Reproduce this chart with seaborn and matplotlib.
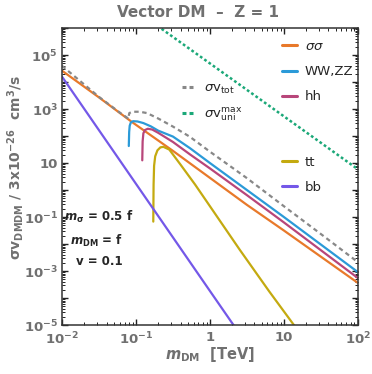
import numpy as np
import pandas as pd
import seaborn as sns
import matplotlib
matplotlib.use("Agg")
from matplotlib import pyplot as plt
from matplotlib.lines import Line2D
from matplotlib.ticker import LogLocator, NullFormatter

# log10 of m_DM [TeV] and log10 of sigma v / 3e-26
ss_logm = [-2.0, -1.5, -1.06, -0.5, 0.0, 0.5, 1.0, 1.5, 2.0]
ss_logsv = [4.42, 3.43, 2.53, 1.45, 0.45, -0.55, -1.5, -2.47, -3.44]

ww_logm = [-1.097, -1.092, -1.085, -1.07, -1.04, -0.98, -0.9, -0.8, -0.7, -0.5, -0.27, 0.0, 0.5, 1.0, 1.5, 2.0]
ww_logsv = [1.63, 2.15, 2.38, 2.5, 2.55, 2.54, 2.48, 2.36, 2.2, 1.98, 1.55, 1.0, 0.0, -1.0, -2.02, -3.04]

hh_logm = [-0.915, -0.91, -0.9, -0.88, -0.84, -0.78, -0.7, -0.5, -0.27, 0.0, 0.5, 1.0, 1.5, 2.0]
hh_logsv = [1.1, 1.8, 2.1, 2.22, 2.27, 2.24, 2.12, 1.78, 1.32, 0.8, -0.19, -1.2, -2.23, -3.26]

tt_logm = [-0.766, -0.762, -0.755, -0.74, -0.71, -0.67, -0.63, -0.55, -0.4, -0.2, 0.0, 0.405, 0.8, 1.135, 1.3]
tt_logsv = [-1.17, 0.2, 0.9, 1.25, 1.47, 1.58, 1.6, 1.5, 0.95, 0.2, -0.6, -2.22, -3.75, -5.0, -5.6]

bb_logm = [-2.0, -1.0, 0.0, 0.5]
bb_logsv = [4.2, 0.23, -3.74, -5.72]

tot_logm = [-2.0, -1.5, -1.2, -1.1, -1.097, -1.09, -1.05, -0.95, -0.85, -0.7, -0.5, -0.27, 0.0, 0.5, 1.0, 1.5, 2.0]
tot_logsv = [4.6, 3.45, 2.83, 2.64, 2.75, 2.85, 2.9, 2.9, 2.85, 2.65, 2.35, 1.97, 1.42, 0.44, -0.6, -1.63, -2.67]

uni_logm = [-1.0, 2.0]
uni_logsv = [6.65, 0.77]

series = [
    ("σσ", ss_logm, ss_logsv, "#E8792A"),
    ("WW,ZZ", ww_logm, ww_logsv, "#2B9AD8"),
    ("hh", hh_logm, hh_logsv, "#B8467A"),
    ("tt", tt_logm, tt_logsv, "#C4AA10"),
    ("bb", bb_logm, bb_logsv, "#7458E8"),
]

sns.set_style("ticks")
plt.rcParams['font.family'] = ['DejaVu Sans']

fig = plt.figure(figsize=(3.72, 3.74), dpi=100)
ax = fig.add_axes([0.1667, 0.131, 0.7953, 0.794])

handles = {}
for name, lm, ls, col in series:
    df = pd.DataFrame({"m": np.power(10.0, lm), "sv": np.power(10.0, ls)})
    sns.lineplot(data=df, x="m", y="sv", ax=ax, color=col, lw=1.6, sort=False, estimator=None)
    handles[name] = Line2D([], [], color=col, lw=2.2)

df_tot = pd.DataFrame({"m": np.power(10.0, tot_logm), "sv": np.power(10.0, tot_logsv)})
sns.lineplot(data=df_tot, x="m", y="sv", ax=ax, color="#888888", lw=1.6, sort=False, estimator=None)
ax.lines[-1].set_dashes([2, 1.6])
df_uni = pd.DataFrame({"m": np.power(10.0, uni_logm), "sv": np.power(10.0, uni_logsv)})
sns.lineplot(data=df_uni, x="m", y="sv", ax=ax, color="#1BA878", lw=1.8, sort=False, estimator=None)
ax.lines[-1].set_dashes([1.1, 1.0])

ax.set_xscale("log")
ax.set_yscale("log")
ax.set_xlim(1e-2, 1e2)
ax.set_ylim(1e-5, 1e6)

gray = "#707070"
ax.set_xticks([1e-2, 1e-1, 1, 10, 1e2])
ax.set_xticklabels(["$\\mathbf{10^{-2}}$", "$\\mathbf{10^{-1}}$", "1", "10", "$\\mathbf{10^{2}}$"])
ax.set_yticks([10.0 ** k for k in range(-5, 7)])
ax.set_yticklabels(["$\\mathbf{10^{%d}}$" % k if k in (-5, -3, -1, 3, 5) else ("10" if k == 1 else "")
                    for k in range(-5, 7)])
ax.xaxis.set_minor_locator(LogLocator(base=10, subs=np.arange(2, 10), numticks=20))
ax.yaxis.set_minor_locator(LogLocator(base=10, subs=np.arange(2, 10), numticks=30))
ax.xaxis.set_minor_formatter(NullFormatter())
ax.yaxis.set_minor_formatter(NullFormatter())
ax.tick_params(which="major", direction="in", length=4, width=1.0, top=True, right=True,
               colors="#222222", labelcolor=gray, labelsize=9.5)
ax.tick_params(axis="x", which="major", pad=4)
ax.tick_params(axis="y", which="major", pad=3)
ax.tick_params(which="minor", direction="in", length=2, width=0.7, top=True, right=True, colors="#222222")
for lab in ax.get_xticklabels() + ax.get_yticklabels():
    lab.set_fontweight("bold")
for sp in ax.spines.values():
    sp.set_color("#333333")
    sp.set_linewidth(1.1)

ax.set_xlabel("$\\mathbfit{m}_{\\mathbf{DM}}$  [TeV]", color=gray, fontsize=10.5, fontweight="bold")
ax.xaxis.set_label_coords(0.5, -0.1)
ax.xaxis.label.set_va("center")
ax.set_ylabel("$\\mathbf{\\sigma v_{DMDM}}$ / $\\mathbf{3x10^{-26}}$  $\\mathbf{cm^3/s}$", color=gray,
              fontsize=10, fontweight="bold")
ax.yaxis.set_label_coords(-0.158, 0.532)
ax.yaxis.label.set_va("center")
fig.text(0.531, 0.967, "Vector DM  –  Z = 1", ha="center", va="center", color=gray,
         fontsize=11, fontweight="bold")

leg_kw = dict(frameon=False, handlelength=1.1, handletextpad=0.6, fontsize=9.5, labelspacing=0.93,
              borderaxespad=0, borderpad=0)
leg1 = ax.legend([handles["σσ"], handles["WW,ZZ"], handles["hh"]], ["$\\sigma\\sigma$", "WW,ZZ", "hh"],
                 loc="upper left", bbox_to_anchor=(0.745, 0.96), **leg_kw)
ax.add_artist(leg1)
leg2 = ax.legend([handles["tt"], handles["bb"]], ["tt", "bb"],
                 loc="upper left", bbox_to_anchor=(0.745, 0.57), **leg_kw)
ax.add_artist(leg2)
h_tot = Line2D([], [], color="#888888", lw=2.2, dashes=[1.3, 1.0])
h_uni = Line2D([], [], color="#1BA878", lw=2.2, dashes=[1.3, 1.0])
leg3 = ax.legend([h_tot, h_uni], ["$\\sigma$v$_{\\mathrm{tot}}$", "$\\sigma$v$_{\\mathrm{uni}}^{\\mathrm{max}}$"],
                 loc="upper left", bbox_to_anchor=(0.405, 0.818),
                 **dict(leg_kw, labelspacing=0.72))

ax.text(0.125, 0.365, "$\\mathbfit{m}_{\\mathbf{\\sigma}}$ = 0.5 f", transform=ax.transAxes, ha="center",
        va="center", fontsize=8.5, fontweight="bold")
ax.text(0.115, 0.283, "$\\mathbfit{m}_{\\mathbf{DM}}$ = f", transform=ax.transAxes, ha="center",
        va="center", fontsize=8.5, fontweight="bold")
ax.text(0.125, 0.215, "v = 0.1", transform=ax.transAxes, ha="center", va="center",
        fontsize=8.5, fontweight="bold")

fig.savefig("out.png", dpi=100)
